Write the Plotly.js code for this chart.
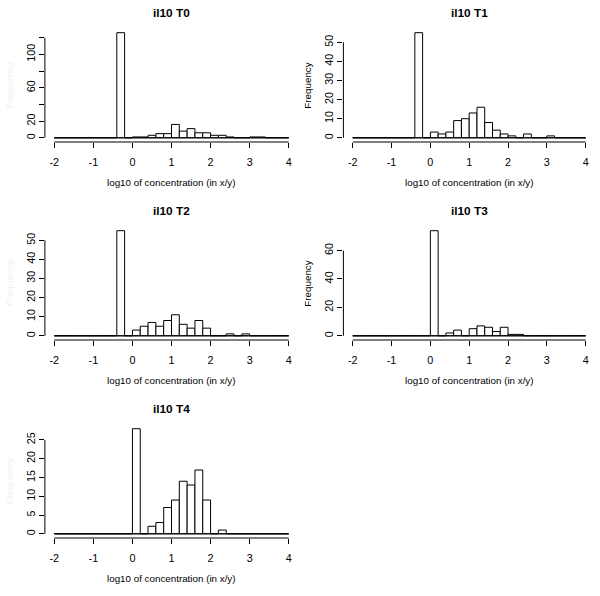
<!DOCTYPE html>
<html><head><meta charset="utf-8">
<script src="https://cdn.plot.ly/plotly-3.0.1.min.js"></script>
<style>html,body{margin:0;padding:0;background:#fff}#chart{width:600px;height:596px}</style>
</head><body><div id="chart"></div>
<script>
// ---- data (histogram counts, 30 bins of width 0.2 from -2 to 4) ----
const binStart = -2;
const binWidth = 0.2;
const panelTitles = ["il10 T0", "il10 T1", "il10 T2", "il10 T3", "il10 T4"];
const xTicks = [-2, -1, 0, 1, 2, 3, 4];
const xTitle = "log10 of concentration (in x/y)";
const yTitle = "Frequency";

const countsT0 = [0,0,0,0,0,0,0,0,126,0, 1,1,3,5,5,16,8,11,6,6, 3,3,1,0,0,1,1,0,0,0];
const countsT1 = [0,0,0,0,0,0,0,0,55,0, 3,2,3,9,10,13,16,8,4,2, 1,0,2,0,0,1,0,0,0,0];
const countsT2 = [0,0,0,0,0,0,0,0,55,0, 3,5,7,5,8,11,6,4,8,4, 0,0,1,0,1,0,0,0,0,0];
const countsT3 = [0,0,0,0,0,0,0,0,0,0, 74,0,2,4,0,5,7,6,3,6, 1,1,0,0,0,0,0,0,0,0];
const countsT4 = [0,0,0,0,0,0,0,0,0,0, 28,0,2,3,7,9,14,13,17,9, 0,1,0,0,0,0,0,0,0,0];

const yTicksT0 = [0, 20, 40, 60, 80, 100, 120];
const yLabelsT0 = ["0", "20", "", "60", "", "100", ""];
const yTicksT1 = [0, 10, 20, 30, 40, 50];
const yLabelsT1 = ["0", "10", "20", "30", "40", "50"];
const yTicksT2 = [0, 10, 20, 30, 40, 50];
const yLabelsT2 = ["0", "10", "20", "30", "40", "50"];
const yTicksT3 = [0, 20, 40, 60];
const yLabelsT3 = ["0", "20", "40", "60"];
const yTicksT4 = [0, 5, 10, 15, 20, 25];
const yLabelsT4 = ["0", "5", "10", "15", "20", "25"];

const allCounts = [countsT0, countsT1, countsT2, countsT3, countsT4];
const allYTicks = [yTicksT0, yTicksT1, yTicksT2, yTicksT3, yTicksT4];
const allYLabels = [yLabelsT0, yLabelsT1, yLabelsT2, yLabelsT3, yLabelsT4];

// ---- geometry (pixels) ----
const W = 600, H = 596;
const cols = [{l: 44.9, r: 298.1}, {l: 343.4, r: 595.0}];
const rows = [{t: 28.5, b: 142.0}, {t: 226.5, b: 340.0}, {t: 424.5, b: 538.0}];
const place = [[0,0],[0,1],[1,0],[1,1],[2,0]];
const FONT = "Liberation Sans, Arial, Helvetica, sans-serif";
const TICKSIZE = 10.8;

const traces = [];
const layout = {
  width: W, height: H,
  margin: {l: 0, r: 0, t: 0, b: 0},
  paper_bgcolor: "#fff", plot_bgcolor: "#fff",
  showlegend: false,
  font: {family: FONT, size: 10, color: "#000"},
  shapes: [], annotations: []
};
const px2x = p => p / W;
const px2y = p => 1 - p / H;

allCounts.forEach((counts, k) => {
  const n = k + 1;
  const sfx = n === 1 ? "" : String(n);
  const [ri, ci] = place[k];
  const c = cols[ci], r = rows[ri];
  const centers = counts.map((_, i) => binStart + binWidth * (i + 0.5));
  traces.push({
    type: "bar", x: centers, y: counts, width: binWidth,
    xaxis: "x" + sfx, yaxis: "y" + sfx,
    marker: {color: "#ffffff", line: {color: "#000", width: 1}},
    hoverinfo: "skip"
  });
  const M = Math.max(...counts);
  const yt = allYTicks[k];
  layout["xaxis" + sfx] = {
    domain: [px2x(c.l), px2x(c.r)],
    anchor: "y" + sfx,
    range: [-2.24, 4.24],
    tickmode: "array", tickvals: xTicks, ticktext: xTicks.map(String),
    ticks: "outside", ticklen: 5, tickwidth: 1, tickcolor: "#000",
    ticklabelstandoff: 5,
    showgrid: false, zeroline: false, showline: false,
    tickfont: {family: FONT, size: TICKSIZE, color: "#000"}
  };
  layout["yaxis" + sfx] = {
    domain: [px2y(r.b), px2y(r.t)],
    anchor: "x" + sfx,
    range: [-0.04 * M, 1.04 * M],
    tickmode: "array", tickvals: yt, ticktext: allYLabels[k],
    ticks: "outside", ticklen: 5, tickwidth: 1, tickcolor: "#000",
    tickangle: -90,
    showgrid: false, zeroline: false, showline: false,
    tickfont: {family: FONT, size: TICKSIZE, color: "#000"}
  };
  // x axis line (-2..4) at plot bottom
  layout.shapes.push({type: "line", xref: "x" + sfx, yref: "y" + sfx + " domain",
    x0: xTicks[0], x1: xTicks[xTicks.length - 1], y0: 0, y1: 0,
    line: {color: "#000", width: 1}});
  // y axis line 0..last tick
  layout.shapes.push({type: "line", xref: "x" + sfx + " domain", yref: "y" + sfx,
    x0: 0, x1: 0, y0: yt[0], y1: yt[yt.length - 1],
    line: {color: "#000", width: 1}});
  // histogram baseline for empty bins
  layout.shapes.push({type: "line", xref: "x" + sfx, yref: "y" + sfx,
    x0: binStart, x1: binStart + binWidth * counts.length, y0: 0, y1: 0,
    line: {color: "#000", width: 1}});
  // title
  layout.annotations.push({text: "<b>" + panelTitles[k] + "</b>", xref: "paper", yref: "paper",
    x: px2x((c.l + c.r) / 2), y: px2y(r.t - 15.8), xanchor: "center", yanchor: "middle",
    showarrow: false, font: {family: FONT, size: 11.8, color: "#000"}});
  // x title
  layout.annotations.push({text: xTitle, xref: "paper", yref: "paper",
    x: px2x((c.l + c.r) / 2), y: px2y(r.b + 40.7), xanchor: "center", yanchor: "middle",
    showarrow: false, font: {family: FONT, size: 9.8, color: "#000"}});
  // y title
  layout.annotations.push({text: yTitle, xref: "paper", yref: "paper",
    x: px2x(c.l - 36), y: px2y((r.t + r.b) / 2), xanchor: "center", yanchor: "middle",
    textangle: -90, showarrow: false,
    font: {family: FONT, size: 9.8, color: ci === 1 ? "#000" : "#f0f0f0"}});
});

Plotly.newPlot("chart", traces, layout, {staticPlot: true, displayModeBar: false});
</script>
</body></html>
